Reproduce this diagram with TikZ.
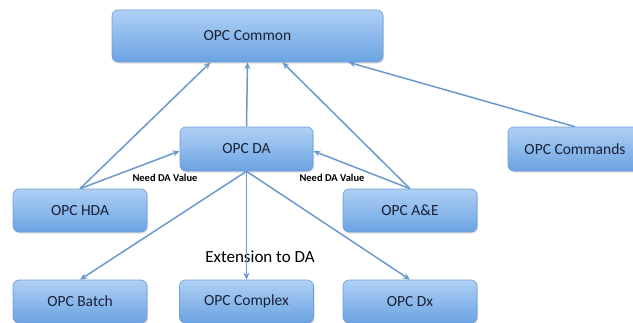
\documentclass[tikz,border=0pt]{standalone}
\usepackage{fontspec}
\setmainfont{Carlito}
\usepackage{tikz}
\usetikzlibrary{calc,arrows.meta,shadows}
\definecolor{boxtop}{HTML}{AFD0F4}
\definecolor{boxbot}{HTML}{6AA3E2}
\definecolor{boxline}{HTML}{6E9ED6}
\definecolor{arrowblue}{HTML}{6A99CE}
\definecolor{textnavy}{HTML}{1A2038}
\newcommand{\boxwidth}{134pt}
\newcommand{\boxheight}{43pt}

\tikzset{
  opcbox/.style={draw=boxline, line width=0.6pt, rounded corners=6pt,
    top color=boxtop, bottom color=boxbot, text=textnavy,
    minimum width=\boxwidth, minimum height=\boxheight,
    font=\fontsize{15.5}{17}\selectfont,
    drop shadow={shadow xshift=1pt, shadow yshift=-1.5pt, opacity=0.25}},
  link/.style={draw=arrowblue, line width=1.5pt, -{Stealth[length=7pt,width=6pt]}},
  needlabel/.style={font=\fontsize{10.5}{12}\selectfont\bfseries, inner sep=1pt}
}

\begin{document}
\begin{tikzpicture}[x=1pt,y=-1pt]
\useasboundingbox (0,0) rectangle (633,322);
\clip (0,0) rectangle (633,322);
\node[opcbox, minimum width=271pt, minimum height=52pt] (common) at (247.5,36) {OPC Common};
\node[opcbox, minimum width=133pt, minimum height=44pt] (da) at (246.5,149) {OPC DA};
\node[opcbox, minimum height=44pt] (cmd) at (575,149) {OPC Commands};
\node[opcbox] (hda) at (80,210.5) {OPC HDA};
\node[opcbox] (ae) at (410,210.5) {OPC A\&E};
\node[opcbox] (batch) at (80,301.5) {OPC Batch};
\node[opcbox] (complex) at (246.5,301.5) {OPC Complex};
\node[opcbox] (dx) at (410,301.5) {OPC Dx};
%labels
\node[needlabel] (needl) at (165,178) {Need DA Value};
\node[needlabel] (needr) at (332,178) {Need DA Value};
\node[font=\fontsize{17}{19}\selectfont] (ext) at (260,257) {Extension to DA};
%up to common
\draw[link] (hda.north) -- ([xshift=-37pt]common.south);
\draw[link] (da.north) -- (common.south);
\draw[link] (ae.north) -- ([xshift=35pt]common.south);
\draw[link] (cmd.north) -- ([xshift=101pt]common.south);
%need DA value
\draw[link] (hda.north) -- ([yshift=-2pt]da.west);
\draw[link] (ae.north) -- ([yshift=-2pt]da.east);
%extensions
\draw[link] (da.south) -- (batch.north);
\draw[link] (da.south) -- (complex.north);
\draw[link] (da.south) -- (dx.north);
\end{tikzpicture}
\end{document}
